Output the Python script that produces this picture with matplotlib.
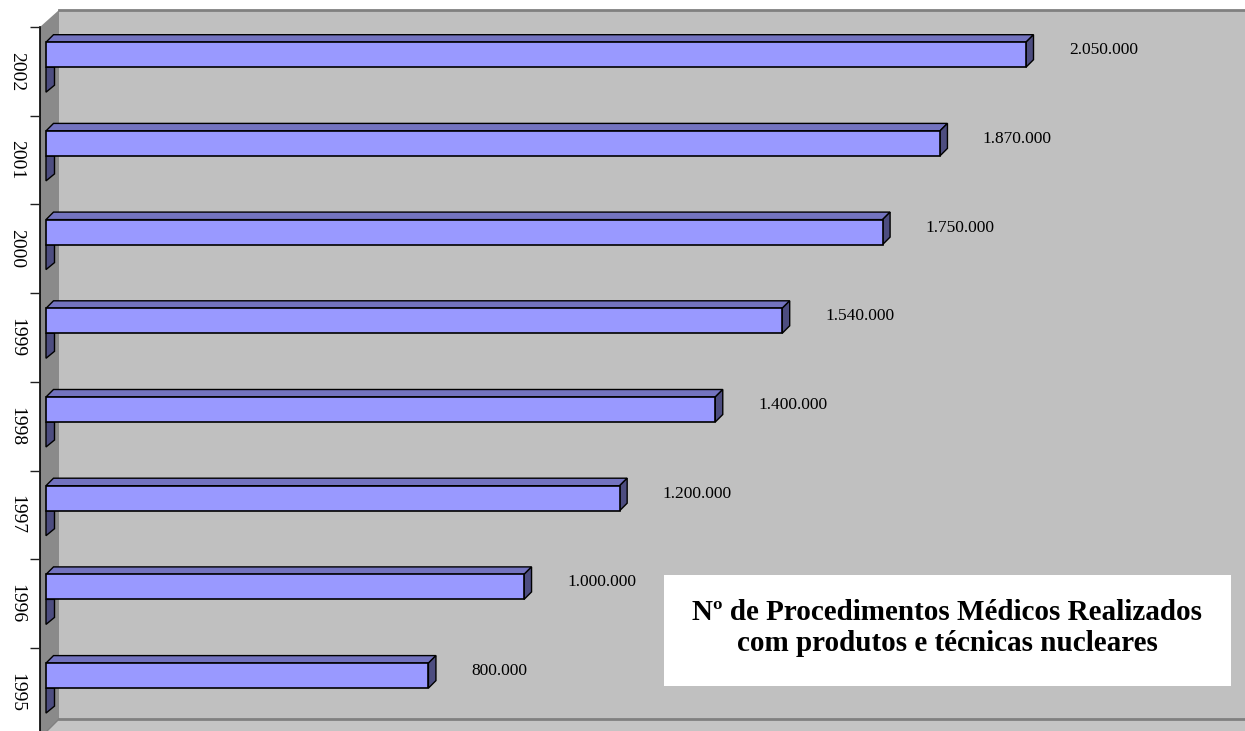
import matplotlib
matplotlib.use("Agg")
import matplotlib.pyplot as plt
from matplotlib.patches import Polygon, Rectangle

# ---- data -------------------------------------------------------------
years = ["1995", "1996", "1997", "1998", "1999", "2000", "2001", "2002"]
procedures = [800000, 1000000, 1200000, 1400000, 1540000, 1750000, 1870000, 2050000]
value_labels = ["800.000", "1.000.000", "1.200.000", "1.400.000",
                "1.540.000", "1.750.000", "1.870.000", "2.050.000"]
title_text = "Nº de Procedimentos Médicos Realizados\ncom produtos e técnicas nucleares"

# ---- figure / geometry --------------------------------------------------
W, H = 1245, 731
fig = plt.figure(figsize=(W / 100, H / 100), dpi=100, facecolor="white")

AX_LEFT = 40                     # pixel column of the category axis
ax = fig.add_axes([AX_LEFT / W, 0, (W - AX_LEFT) / W, 1])

PX_PER_UNIT = 980 / 2050000      # horizontal scale of the value axis
ZERO_PX = 46                     # pixel column where bars start
SLOT = 88.7                      # pixel height of one category slot
FIRST_CENTER = 692.25            # pixel row of the lowest category centre

ax.set_xlim((AX_LEFT - ZERO_PX) / PX_PER_UNIT, (W - ZERO_PX) / PX_PER_UNIT)
ax.set_ylim((FIRST_CENTER - H) / SLOT, FIRST_CENTER / SLOT)
ax.set_facecolor("white")


def fr(px, py):
    """pixel position -> axes fraction"""
    return ((px - AX_LEFT) / (W - AX_LEFT), 1 - py / H)


# walls and floor of the 3-D box
back_wall = Polygon([fr(59, 10), fr(W, 10), fr(W, 719), fr(59, 719)],
                    closed=True, transform=ax.transAxes, facecolor="#C0C0C0",
                    edgecolor="none", zorder=0)
floor = Polygon([fr(59, 719), fr(W, 719), fr(W, H + 20), fr(40, H + 20), fr(40, 738)],
                closed=True, transform=ax.transAxes, facecolor="#C4C4C4",
                edgecolor="none", zorder=0)
side_wall = Polygon([fr(40, 27), fr(59, 10), fr(59, 719), fr(40, 738)],
                    closed=True, transform=ax.transAxes, facecolor="#8A8A8A",
                    edgecolor="none", zorder=0.5)
for p in (back_wall, floor, side_wall):
    ax.add_patch(p)
ax.plot(*zip(fr(59, 10), fr(W, 10)), transform=ax.transAxes, color="#808080", lw=2, zorder=0.6)
ax.plot(*zip(fr(59, 719), fr(W, 719)), transform=ax.transAxes, color="#808080", lw=2, zorder=0.6)
ax.plot(*zip(fr(59, 719), fr(40, 738)), transform=ax.transAxes, color="#808080", lw=1, zorder=0.6)

# ---- 3-D bars -------------------------------------------------------------
idx = list(range(len(years)))
bar_h = 25 / SLOT
bar_off = 16.65 / SLOT
dx = 7.5 / PX_PER_UNIT
dy = 7.5 / SLOT
leg_w = 8.5 / PX_PER_UNIT
front = "#9999FF"
top = "#7373BF"
side = "#4D4D80"
edge = "#000000"

ax.barh([i + bar_off for i in idx], procedures, height=bar_h, left=0,
        color=front, edgecolor=edge, linewidth=1.2, zorder=3)

for i, v in zip(idx, procedures):
    yc = i + bar_off
    yt = yc + bar_h / 2
    yb = yc - bar_h / 2
    ax.add_patch(Polygon([(0, yt), (dx, yt + dy), (v + dx, yt + dy), (v, yt)],
                         closed=True, facecolor=top, edgecolor=edge, lw=1.0, zorder=2))
    ax.add_patch(Polygon([(v, yt), (v + dx, yt + dy), (v + dx, yb + dy), (v, yb)],
                         closed=True, facecolor=side, edgecolor=edge, lw=1.0, zorder=2))
    ax.add_patch(Polygon([(0, yb), (leg_w, yb), (leg_w, yb - 18 / SLOT), (0, yb - 25 / SLOT)],
                         closed=True, facecolor=side, edgecolor=edge, lw=1.0, zorder=2))
    ax.text(v + 43 / PX_PER_UNIT, yc + 4.5 / SLOT, value_labels[i],
            ha="left", va="center", fontsize=12.5, family="Liberation Serif",
            color="black", zorder=4)

# ---- category axis --------------------------------------------------------
for s in ("top", "right", "bottom"):
    ax.spines[s].set_visible(False)
ax.spines["left"].set_bounds(ax.get_ylim()[0], 7.5)
ax.spines["left"].set_color("black")
ax.spines["left"].set_linewidth(1.2)
ax.spines["left"].set_zorder(1)

ax.set_xticks([])
ax.set_yticks(idx)
ax.set_yticklabels(years, rotation=-90, fontsize=14, family="Liberation Serif", va="center")
ax.tick_params(axis="y", which="major", length=0, pad=11)
ax.set_yticks([i + 0.5 for i in idx], minor=True)
ax.tick_params(axis="y", which="minor", length=7.2, width=1.0, color="#202020")

# ---- title box ------------------------------------------------------------
ax.add_patch(Rectangle(fr(664, 686), (1231 - 664) / (W - AX_LEFT), 111 / H,
                       transform=ax.transAxes, facecolor="white", edgecolor="none", zorder=5))
tx, ty = fr(947.5, 628)
ax.text(tx, ty, title_text, transform=ax.transAxes, ha="center", va="center",
        fontsize=21, fontweight="bold", family="Liberation Serif",
        linespacing=1.2, zorder=6)

fig.savefig("out.png", dpi=100, facecolor="white")
